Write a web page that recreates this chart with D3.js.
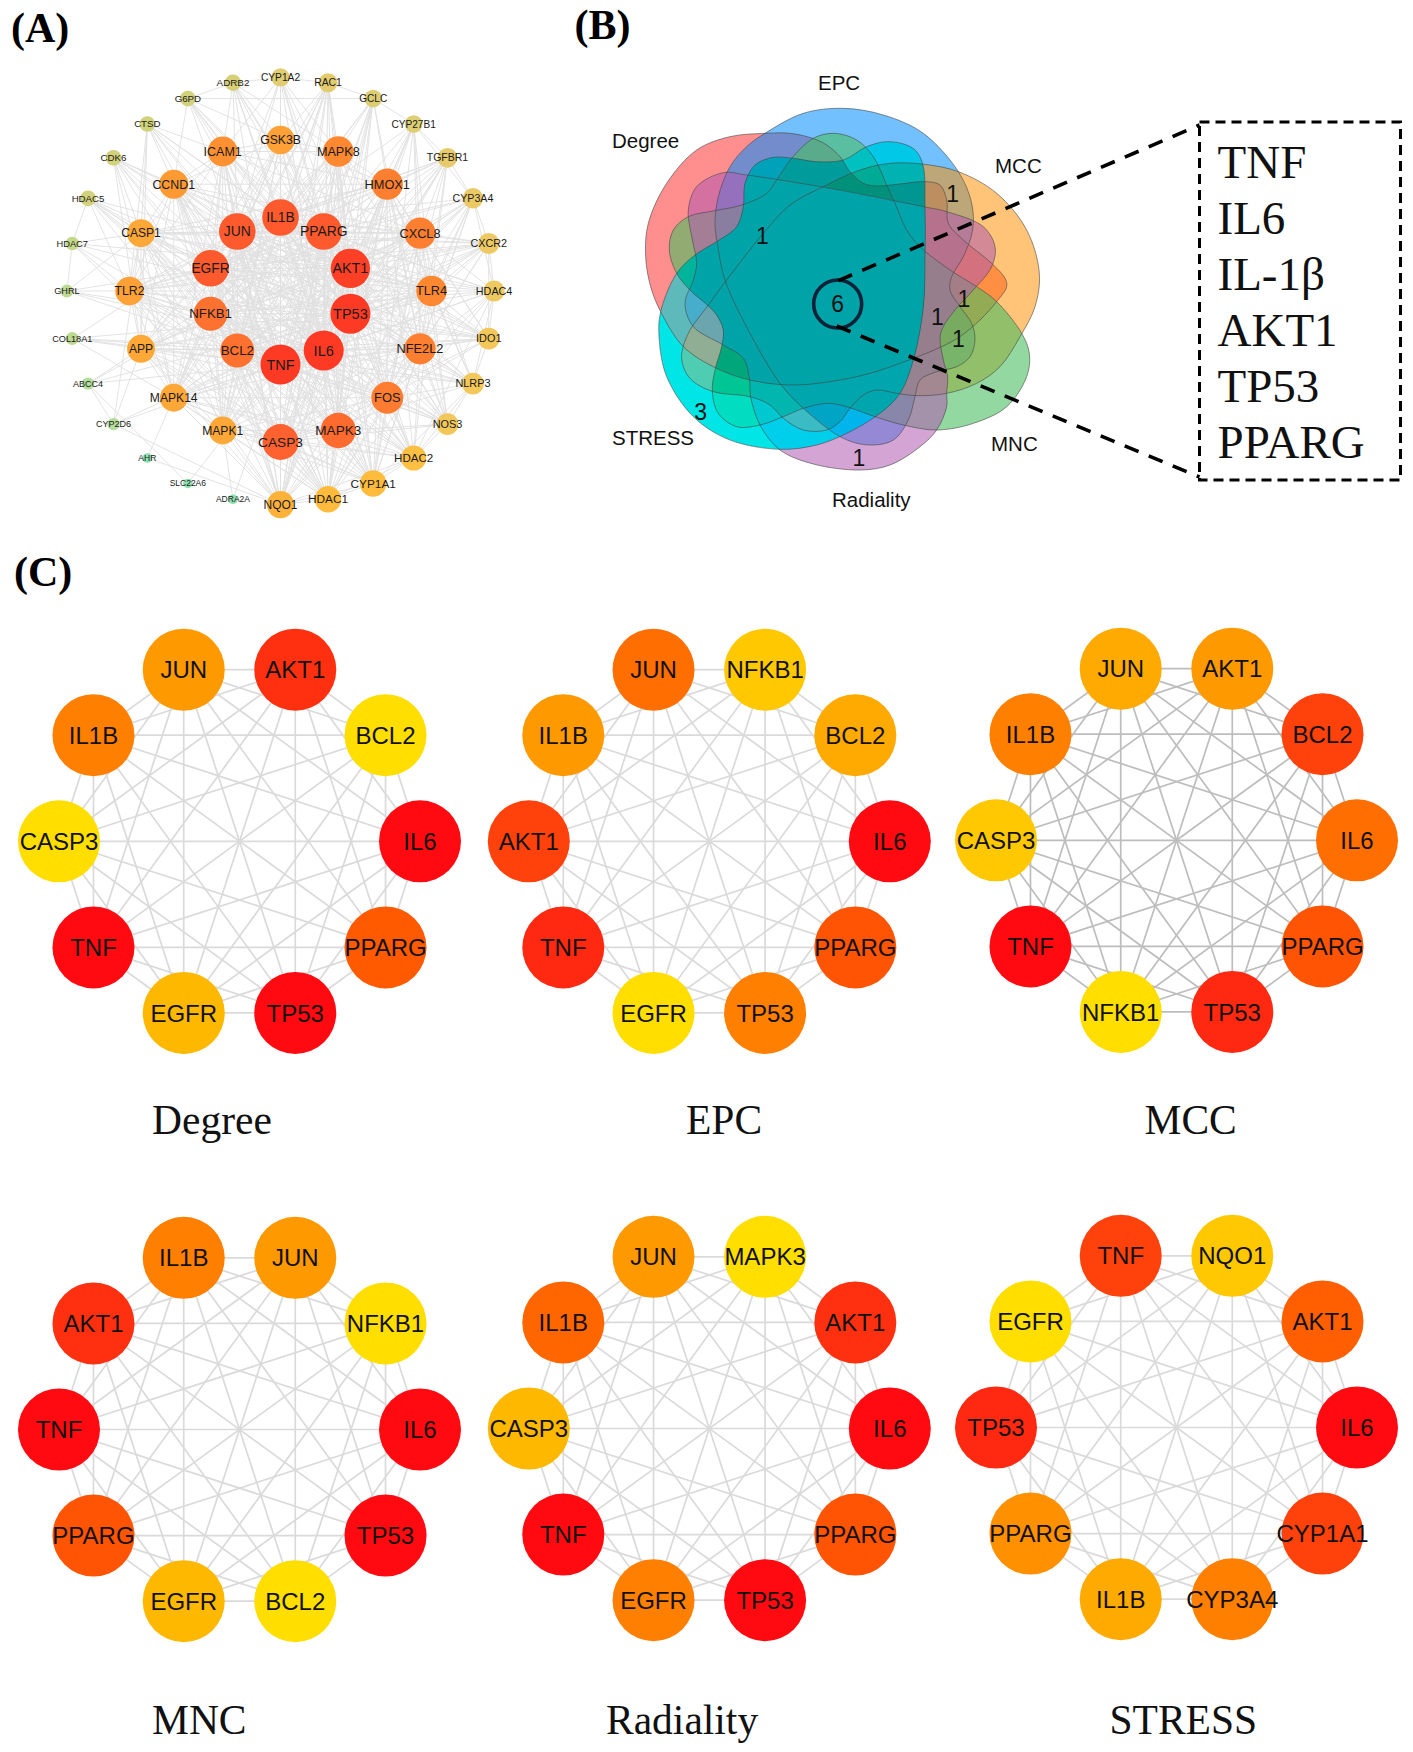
<!DOCTYPE html>
<html><head><meta charset="utf-8">
<script src="https://cdnjs.cloudflare.com/ajax/libs/d3/7.8.5/d3.min.js"></script>
<style>html,body{margin:0;padding:0;background:#fff}svg{display:block}</style>
</head><body><svg id="c" width="1413" height="1752" viewBox="0 0 1413 1752"></svg>
<script>
// ---------- Panel A: network ----------
const outerNames=["CYP1A2","RAC1","GCLC","CYP27B1","TGFBR1","CYP3A4","CXCR2","HDAC4","IDO1","NLRP3","NOS3","HDAC2","CYP1A1","HDAC1","NQO1","ADRA2A","SLC22A6","AHR","CYP2D6","ABCC4","COL18A1","GHRL","HDAC7","HDAC5","CDK6","CTSD","G6PD","ADRB2"];
const outerDegree=[15,16,14,14,17,18,19,19,20,20,20,25,27,27,28,2,2,2,6,6,7,7,8,11,11,11,11,12];
const middleNames=["GSK3B","MAPK8","HMOX1","CXCL8","TLR4","NFE2L2","FOS","MAPK3","CASP3","MAPK1","MAPK14","APP","TLR2","CASP1","CCND1","ICAM1"];
const middleDegree=[30,33,34,34,33,34,35,40,41,29,29,29,30,29,31,32];
const innerNames=["IL1B","PPARG","AKT1","TP53","IL6","TNF","BCL2","NFKB1","EGFR","JUN"];
const innerDegree=[42,42,46,47,47,47,38,38,42,42];
// neighbours of each outer node (indices: outer 0-27, middle 28-43, inner 44-53)
const outerLinks=[[27,1,28,44,45,46,47,48,49,53,36,29,43,33,52],[0,2,28,29,46,47,48,49,44,53,36,35,37,38,51,50],[1,3,29,30,33,45,46,47,48,49,44,51,36,14],[2,4,30,45,47,48,49,46,52,12,5,31,33,32],[3,5,30,31,46,47,48,49,44,51,52,50,53,34,36,33,32],[4,6,3,12,14,31,33,45,46,47,48,49,44,52,50,13,7,32],[5,31,32,44,48,49,46,47,51,53,34,7,8,33,52,50,40,41,36],[6,8,11,13,32,46,47,48,49,45,52,53,51,44,34,5,33,9,31],[7,6,9,32,33,44,48,49,47,46,45,51,53,50,34,30,36,31,52,40],[8,7,10,33,34,44,48,49,46,47,51,53,36,31,32,41,30,11,12,50],[9,11,33,34,35,46,47,48,49,44,45,51,50,53,36,30,32,31,29,52],[10,12,13,7,9,14,47,46,48,49,45,51,50,34,33,36,35,52,42,30,32,37,53,38,44],[11,13,5,3,14,36,35,34,33,48,49,47,46,45,44,53,51,50,52,37,38,39,40,30,31,42,43],[12,14,11,5,7,36,35,47,46,48,49,45,44,51,50,52,53,34,33,37,38,39,42,30,31,40,41],[13,12,11,5,2,36,35,37,38,49,48,47,46,45,44,53,52,51,50,33,34,39,30,42,40,43,41,29],[37,49],[19,49],[38,14],[19,39,41,14,49,47],[18,16,39,49,47,51],[50,49,48,47,39,38,53],[22,40,41,52,51,49,48],[21,23,41,40,46,47,49,13],[22,41,40,46,47,48,49,52,51,13,11],[42,41,47,46,49,48,51,53,52,39,38],[42,43,41,40,39,46,47,48,49,44,53],[27,2,43,42,28,46,47,48,49,45,44],[0,26,43,28,29,46,47,48,49,44,45,53]];
const middleLinks=[[29,43,42,30,36,35,37,38,39],[30,43,31,34,35,37,38,36,32],[31,33,32,34,36,42,41,43,35],[32,33,34,36,40,41,39,42,43],[33,34,40,41,36,35,38,39],[34,36,35,42,38,37],[35,36,37,38,39,40,42],[36,37,38,39,40,41,42],[37,38,39,40,41,42,43],[38,39,42,43,41],[39,40,41,42,43],[40,41,42],[41,42,43],[42,43],[43],[]];

// ---------- Panel B: Venn ----------
const vennSets=["Degree","EPC","MCC","MNC","Radiality","STRESS"];
const outlineDegree=[[405,130],[300,140],[200,180],[110,280],[55,400],[47,500],[62,590],[92,665],[160,770],[260,835],[360,870],[480,885],[600,875],[720,850],[850,805],[935,770],[990,740],[1050,690],[1100,635],[1130,590],[1125,565],[1085,520],[1000,450],[955,400],[950,330],[930,285],[885,275],[810,282],[740,288],[700,280],[660,245],[630,200],[590,165],[548,145],[480,130]];
const outlineEPC=[[405,130],[520,70],[640,55],[760,75],[880,130],[985,245],[1025,340],[1028,420],[1000,500],[965,560],[960,600],[990,650],[1025,700],[1035,750],[1020,800],[980,830],[920,845],[870,870],[855,920],[835,990],[790,1050],[720,1065],[640,1045],[520,955],[450,880],[360,730],[285,570],[262,460],[255,400],[265,320],[300,230],[350,170]];
const outlineMCC=[[875,222],[985,245],[1100,310],[1190,420],[1228,550],[1215,650],[1170,740],[1110,830],[1040,880],[950,910],[860,917],[800,910],[740,900],[700,915],[660,955],[630,995],[590,1020],[520,1020],[460,985],[420,945],[360,920],[250,905],[180,865],[155,805],[175,730],[235,645],[290,570],[400,430],[480,345],[580,290],[690,240],[780,220]];
const outlineMNC=[[1040,590],[1100,635],[1175,730],[1198,790],[1190,860],[1130,950],[1030,1000],[920,1020],[820,1005],[735,980],[665,955],[630,945],[590,940],[520,955],[460,980],[390,1005],[320,1010],[265,970],[247,905],[255,840],[275,770],[280,720],[260,675],[232,645],[185,605],[140,550],[118,480],[130,420],[175,380],[255,362],[335,345],[410,310],[440,270],[485,205],[550,145],[610,130],[680,150],[730,200],[770,285],[795,340],[830,420],[870,470],[960,540]];
const outlineRadiality=[[950,910],[953,860],[940,810],[932,730],[975,660],[1030,600],[1085,530],[1095,470],[1060,410],[950,365],[880,350],[600,295],[350,255],[280,248],[200,290],[175,360],[185,440],[200,520],[190,570],[165,640],[190,710],[280,765],[340,805],[358,865],[362,920],[390,1005],[450,1080],[550,1122],[690,1140],[780,1125],[870,1070],[920,1020],[950,950]];
const outlineSTRESS=[[92,665],[87,740],[110,860],[190,980],[300,1050],[450,1078],[560,1065],[650,1030],[750,970],[810,910],[850,810],[880,650],[885,500],[885,350],[880,230],[860,185],[830,165],[770,155],[710,170],[640,210],[560,215],[490,205],[430,202],[375,225],[345,280],[340,350],[320,410],[260,455],[195,495],[140,550]];
const vennCounts=["6","1","1","1","1","1","1","3"];
const vennCountPos=[[623,642],[397,437],[968,310],[1002,625],[922,680],[985,745],[687,1102],[212,965]];
const vennLabelPos=[[612,148],[818,90],[995,173],[991,451],[832,507],[612,445]];
const sharedGenes=["TNF","IL6","IL-1β","AKT1","TP53","PPARG"];

// ---------- Panel C: top-10 hub networks ----------
const hubTitles=["Degree","EPC","MCC","MNC","Radiality","STRESS"];
const hubDegreeNames=["JUN","AKT1","BCL2","IL6","PPARG","TP53","EGFR","TNF","CASP3","IL1B"];
const hubDegreeScores=[.4,.85,0,1,.7,1,.2,1,0,.55];
const hubEPCNames=["JUN","NFKB1","BCL2","IL6","PPARG","TP53","EGFR","TNF","AKT1","IL1B"];
const hubEPCScores=[.62,.1,.3,1,.72,.55,0,.88,.78,.4];
const hubMCCNames=["JUN","AKT1","BCL2","IL6","PPARG","TP53","NFKB1","TNF","CASP3","IL1B"];
const hubMCCScores=[.3,.4,.78,.62,.72,.88,0,1,.1,.55];
const hubMNCNames=["IL1B","JUN","NFKB1","IL6","TP53","BCL2","EGFR","PPARG","TNF","AKT1"];
const hubMNCScores=[.55,.4,0,1,1,0,.2,.72,1,.85];
const hubRadialityNames=["JUN","MAPK3","AKT1","IL6","PPARG","TP53","EGFR","TNF","CASP3","IL1B"];
const hubRadialityScores=[.4,0,.85,1,.72,1,.55,1,.2,.65];
const hubSTRESSNames=["TNF","NQO1","AKT1","IL6","CYP1A1","CYP3A4","IL1B","PPARG","TP53","EGFR"];
const hubSTRESSScores=[.78,.1,.68,1,.78,.55,.3,.45,.88,0];

const SANS="'Liberation Sans',Arial,sans-serif", SERIF="'Liberation Serif','Times New Roman',serif";
const svg=d3.select("#c");
const defs=svg.append("defs");

// panel letters
[["(A)",11,42],["(B)",574.5,39],["(C)",14,586]].forEach(([t,x,y])=>svg.append("text").attr("x",x).attr("y",y).attr("font-family",SERIF).attr("font-weight","bold").attr("font-size",42).attr("fill","#000").text(t));

// ===== A =====
(function(){
  const cx=280.5, cy=291;
  const rings=[{names:outerNames,deg:outerDegree,r:213.6},{names:middleNames,deg:middleDegree,r:151},{names:innerNames,deg:innerDegree,r:73.5}];
  const nodes=[];
  rings.forEach(ring=>{
    const ang=d3.scaleLinear().domain([0,ring.names.length]).range([0,2*Math.PI]);
    ring.names.forEach((n,i)=>nodes.push({name:n,deg:ring.deg[i],x:cx+ring.r*Math.sin(ang(i)),y:cy-ring.r*Math.cos(ang(i))}));
  });
  const edges=new Set();
  const add=(a,b)=>edges.add(Math.min(a,b)+"-"+Math.max(a,b));
  outerLinks.forEach((l,i)=>l.forEach(j=>add(i,j)));
  middleLinks.forEach((l,i)=>l.forEach(j=>add(i+28,j)));
  d3.range(44,54).forEach(i=>{d3.range(28,54).forEach(j=>{if(i!==j)add(i,j)})});
  const rS=d3.scaleLinear().domain([2,47]).range([4.8,20]);
  const fS=d3.scaleLinear().domain([2,47]).range([8.5,14.5]);
  const cS=d3.scaleLinear().domain([2,6,8,12,15,19,22,27,29,31,34,40,42,47])
    .range(["#8fe0b0","#b4dc9c","#c4d888","#d6cf78","#e0cd72","#eec962","#fcc34a","#ffbc3c","#ffa838","#ff9a33","#ff7f30","#ff6a2e","#ff5a2e","#ff3a24"]);
  const g=svg.append("g");
  g.selectAll("line").data([...edges].map(s=>s.split("-").map(Number))).join("line")
    .attr("x1",d=>nodes[d[0]].x).attr("y1",d=>nodes[d[0]].y).attr("x2",d=>nodes[d[1]].x).attr("y2",d=>nodes[d[1]].y)
    .attr("stroke","#e0e0e0").attr("stroke-width",.9);
  g.selectAll("circle").data(nodes).join("circle").attr("cx",d=>d.x).attr("cy",d=>d.y).attr("r",d=>rS(d.deg)).attr("fill",d=>cS(d.deg));
  g.selectAll("text").data(nodes).join("text").attr("x",d=>d.x).attr("y",d=>d.y).attr("dy",".35em").attr("text-anchor","middle")
    .attr("font-family",SANS).attr("font-size",d=>fS(d.deg)).attr("fill","#1a1a1a").text(d=>d.name);
})();

// ===== B =====
(function(){
  const vx=d3.scaleLinear().domain([0,1260]).range([630,1050]);
  const vy=d3.scaleLinear().domain([0,1260]).range([90,510]);
  const line=d3.line().x(d=>vx(d[0])).y(d=>vy(d[1])).curve(d3.curveCatmullRomClosed.alpha(.5));
  const outlines={Degree:outlineDegree,EPC:outlineEPC,MCC:outlineMCC,MNC:outlineMNC,Radiality:outlineRadiality,STRESS:outlineSTRESS};
  vennSets.forEach(s=>defs.append("clipPath").attr("id","clip"+s).append("path").attr("d",line(outlines[s])));
  const g=svg.append("g").style("isolation","isolate");
  const plain={Degree:"rgba(255,29,29,.5)",EPC:"rgba(0,140,255,.55)",MCC:"rgba(255,143,0,.53)",MNC:"rgba(73,190,97,.6)",Radiality:"rgba(176,89,176,.55)"};
  ["Degree","EPC","MCC","MNC","Radiality"].forEach(s=>g.append("path").attr("d",line(outlines[s])).attr("fill",plain[s]));
  // inside STRESS
  const inS=g.append("g").attr("clip-path","url(#clipSTRESS)").style("isolation","isolate");
  inS.append("path").attr("d",line(outlineSTRESS)).attr("fill","#00e6e6");
  inS.append("path").attr("d",line(outlineDegree)).attr("fill","rgba(255,110,110,.37)");
  inS.append("path").attr("d",line(outlineMCC)).attr("fill","rgba(255,150,60,.31)");
  inS.append("path").attr("d",line(outlineMNC)).attr("fill","#00f5d5").style("mix-blend-mode","multiply");
  inS.append("path").attr("d",line(outlineRadiality)).attr("fill","rgba(0,140,255,.25)");
  inS.append("path").attr("d",line(outlineEPC)).attr("fill","#00deff").style("mix-blend-mode","multiply");
  // flat regions where many sets coincide
  const flat=(sets,fill)=>{let c=g;sets.forEach(s=>{c=c.append("g").attr("clip-path","url(#clip"+s+")")});
    c.append("rect").attr("x",630).attr("y",90).attr("width",420).attr("height",420).attr("fill",fill);};
  flat(["STRESS","EPC","Radiality","MNC"],"#00a6ae");
  flat(["STRESS","EPC","Radiality","Degree"],"#00a5ac");
  flat(["STRESS","Degree","MNC","Radiality"],"#00a4a8");
  flat(vennSets,"#00a3a8");
  vennSets.forEach(s=>g.append("path").attr("d",line(outlines[s])).attr("fill","none").attr("stroke","#444").attr("stroke-width",.6));
  // labels
  vennSets.forEach((s,i)=>svg.append("text").attr("x",vennLabelPos[i][0]).attr("y",vennLabelPos[i][1]).attr("font-family",SANS).attr("font-size",20.5).attr("fill","#111").text(s));
  svg.selectAll(".cnt").data(vennCounts).join("text").attr("class","cnt").attr("x",(d,i)=>vx(vennCountPos[i][0])).attr("y",(d,i)=>vy(vennCountPos[i][1])).attr("dy",".36em")
    .attr("text-anchor","middle").attr("font-family",SANS).attr("font-size",23).attr("fill","#111").text(d=>d);
  // callout
  svg.append("circle").attr("cx",vx(623)).attr("cy",vy(642)).attr("r",24).attr("fill","none").attr("stroke","#0b2238").attr("stroke-width",3.6);
  const dash=(x1,y1,x2,y2)=>svg.append("line").attr("x1",x1).attr("y1",y1).attr("x2",x2).attr("y2",y2).attr("stroke","#000").attr("stroke-width",3.6).attr("stroke-dasharray","15 11");
  dash(vx(625),vy(572),1199.5,125); dash(vx(620),vy(708),1199.5,477);
  svg.append("rect").attr("x",1199.5).attr("y",122).attr("width",201).attr("height",358).attr("fill","none").attr("stroke","#000").attr("stroke-width",3).attr("stroke-dasharray","10 6");
  sharedGenes.forEach((t,i)=>svg.append("text").attr("x",1217.5).attr("y",178+i*56).attr("font-family",SERIF).attr("font-size",47).attr("fill","#111").text(t));
})();

// ===== C =====
(function(){
  const panels=[
    {names:hubDegreeNames,scores:hubDegreeScores,cx:239.5,cy:841.3,tx:152,ty:1134.4,edge:"#dadada"},
    {names:hubEPCNames,scores:hubEPCScores,cx:709.3,cy:841.3,tx:686,ty:1134.4,edge:"#dadada"},
    {names:hubMCCNames,scores:hubMCCScores,cx:1176.5,cy:840.3,tx:1144.5,ty:1134.4,edge:"#bdbdbd"},
    {names:hubMNCNames,scores:hubMNCScores,cx:239.5,cy:1429.5,tx:152,ty:1733.5,edge:"#dadada"},
    {names:hubRadialityNames,scores:hubRadialityScores,cx:709.3,cy:1428.5,tx:606,ty:1733.5,edge:"#dadada"},
    {names:hubSTRESSNames,scores:hubSTRESSScores,cx:1176.5,cy:1427.5,tx:1109.5,ty:1733.5,edge:"#dadada"}];
  const col=d3.scaleLinear().domain([0,.1,.2,.3,.4,.55,.62,.7,.75,.85,1])
    .range(["#ffde00","#ffc800","#ffb800","#ffaa00","#ff9900","#ff7f00","#ff6e00","#ff5a00","#ff4a0a","#ff3010","#ff0a10"]);
  const ang=d3.scaleLinear().domain([0,10]).range([-Math.PI/10,2*Math.PI-Math.PI/10]);
  panels.forEach((p,k)=>{
    const R=180.5;
    const nodes=p.names.map((n,i)=>({n,v:p.scores[i],x:p.cx+R*Math.sin(ang(i)),y:p.cy-R*Math.cos(ang(i))}));
    const g=svg.append("g");
    const pairs=d3.merge(nodes.map((a,i)=>nodes.slice(i+1).map(b=>[a,b])));
    g.selectAll("line").data(pairs).join("line").attr("x1",d=>d[0].x).attr("y1",d=>d[0].y).attr("x2",d=>d[1].x).attr("y2",d=>d[1].y).attr("stroke",p.edge).attr("stroke-width",1.7);
    g.selectAll("circle").data(nodes).join("circle").attr("cx",d=>d.x).attr("cy",d=>d.y).attr("r",41).attr("fill",d=>col(d.v));
    g.selectAll("text.n").data(nodes).join("text").attr("class","n").attr("x",d=>d.x).attr("y",d=>d.y).attr("dy",".36em").attr("text-anchor","middle")
      .attr("font-family",SANS).attr("font-size",24).attr("fill","#111").text(d=>d.n);
    svg.append("text").attr("x",p.tx).attr("y",p.ty).attr("font-family",SERIF).attr("font-size",41.5).attr("fill","#111").text(hubTitles[k]);
  });
})();
</script></body></html>
